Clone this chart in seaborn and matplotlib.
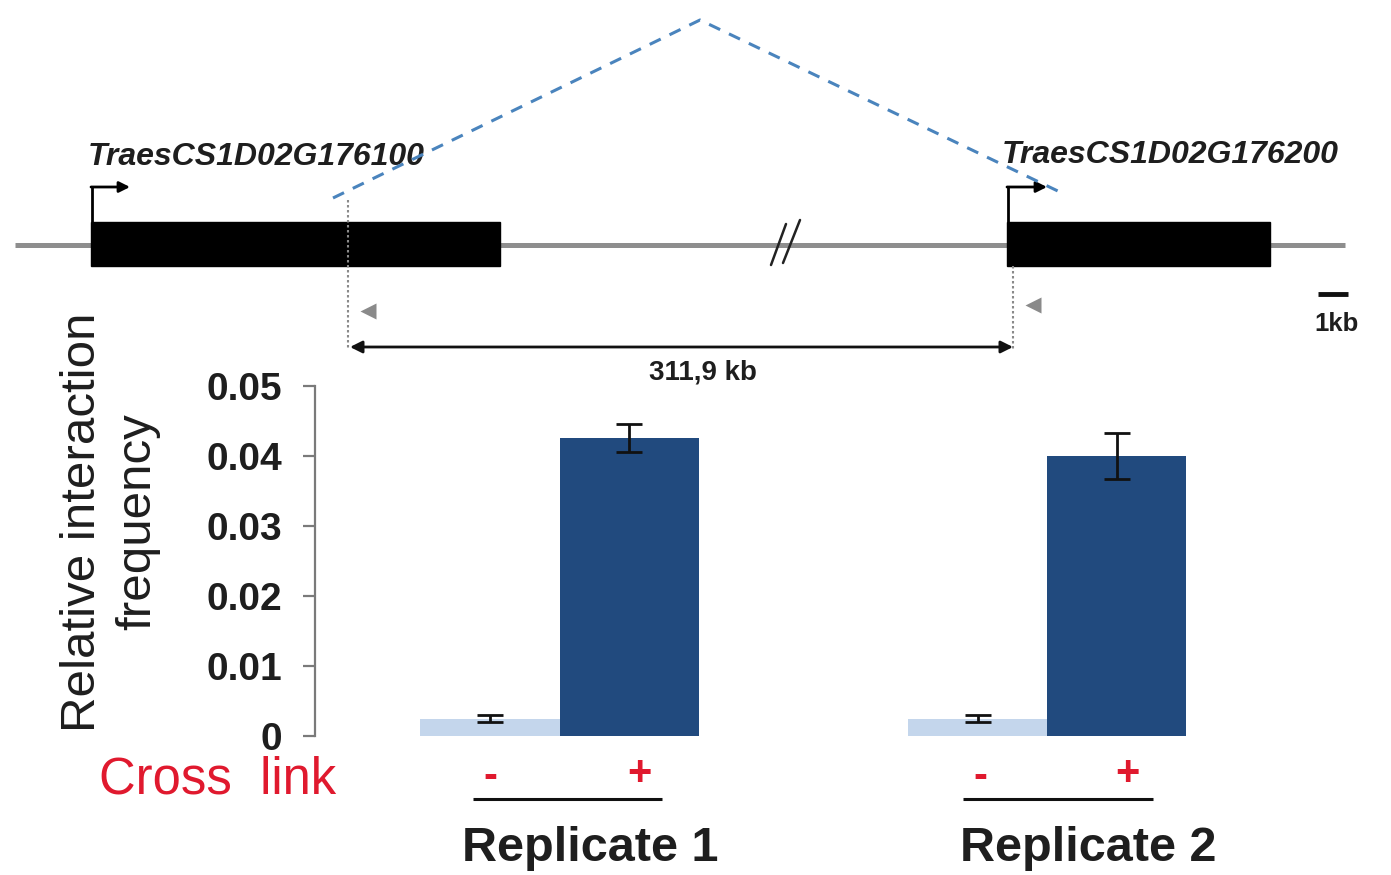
import numpy as np
import pandas as pd
import seaborn as sns
import matplotlib
matplotlib.use("Agg")
import matplotlib.pyplot as plt
from matplotlib.patches import Rectangle
from matplotlib.ticker import FixedLocator, FixedFormatter

# ---- data ----
replicates = ["Replicate 1", "Replicate 2"]
crosslink = ["-", "+"]
freq_minus = [0.0025, 0.0025]
freq_plus = [0.0426, 0.0400]
err_minus = [0.0005, 0.0005]
err_plus = [0.0020, 0.0033]
ytick_values = [0.0, 0.01, 0.02, 0.03, 0.04, 0.05]
ytick_labels = ["0", "0.01", "0.02", "0.03", "0.04", "0.05"]
gene_names = ["TraesCS1D02G176100", "TraesCS1D02G176200"]
distance_label = "311,9 kb"
scale_label = "1kb"

sns.set_style("white")
plt.rcParams["font.family"] = ["Liberation Sans", "DejaVu Sans"]

W, H = 1391, 875
fig = plt.figure(figsize=(W / 100, H / 100), dpi=100)

# overlay in pixel units for the locus diagram and labels
ov = fig.add_axes([0, 0, 1, 1])
ov.set_xlim(0, W)
ov.set_ylim(H, 0)
ov.axis("off")

# ---- bar chart ----
rows = []
group_gap = 3.5
for gi, rep in enumerate(replicates):
    for ci, (cl, vals, errs) in enumerate(zip(crosslink, [freq_minus, freq_plus], [err_minus, err_plus])):
        rows.append({"pos": gi * group_gap + ci, "crosslink": cl,
                     "freq": vals[gi], "err": errs[gi], "rep": rep})
df = pd.DataFrame(rows)

ax = fig.add_axes([315 / W, (H - 736) / H, (1250 - 315) / W, 350 / H])
ax.patch.set_alpha(0)
sns.barplot(data=df, x="pos", y="freq", hue="crosslink", native_scale=True,
            palette={"-": "#c4d6ec", "+": "#214a7e"}, saturation=1, width=1.0, dodge=False,
            errorbar=None, legend=False, linewidth=0, ax=ax)
ax.errorbar(df["pos"], df["freq"], yerr=df["err"], fmt="none", ecolor="#111111",
            elinewidth=2.0, capsize=9.5, capthick=2.0, zorder=5)

ax.set_ylim(0, 0.05)
ax.set_xlim(-(490 - 315) / 139.3, (1250 - 490) / 139.3)
ax.yaxis.set_major_locator(FixedLocator(ytick_values))
ax.yaxis.set_major_formatter(FixedFormatter(ytick_labels))
ax.set_xticks([])
ax.set_xlabel("")
ax.set_ylabel("")
for s in ["top", "right", "bottom"]:
    ax.spines[s].set_visible(False)
ax.spines["left"].set_color("#7a7a7a")
ax.spines["left"].set_linewidth(1.6)
ax.tick_params(axis="y", direction="out", length=8.6, width=1.6, color="#7a7a7a",
               pad=15, labelsize=28, labelcolor="#1e1e1e", left=True)
for t in ax.get_yticklabels():
    t.set_fontweight("bold")

# y-axis title
ov.text(110, 522, "Relative interaction\nfrequency", rotation=90, ha="center", va="center",
        multialignment="center", fontsize=35.5, color="#1e1e1e", linespacing=1.3)

# cross-link row and replicate labels
red = "#e0192e"
ov.text(99, 793, "Cross  link", fontsize=36.5, color=red, ha="left", va="baseline")
sign_x = [[490, 639], [980, 1127]]
for gi in range(len(replicates)):
    ov.text(sign_x[gi][0], 788, crosslink[0], fontsize=30, fontweight="bold", color=red,
            ha="center", va="baseline")
    ov.text(sign_x[gi][1], 785, crosslink[1], fontsize=30, fontweight="bold", color=red,
            ha="center", va="baseline")
underlines = [(473, 662), (963, 1153)]
rep_x = [590, 1088]
for (x0, x1), rx, rep in zip(underlines, rep_x, replicates):
    ov.plot([x0, x1], [799, 799], color="#111111", lw=2.2, solid_capstyle="butt")
    ov.text(rx, 861, rep, fontsize=35, fontweight="bold", color="#1e1e1e",
            ha="center", va="baseline")

# ---- locus diagram ----
ov.plot([15, 1345], [245, 245], color="#8e8e8e", lw=3.6, solid_capstyle="butt", zorder=1)
ov.add_patch(Rectangle((91, 222), 409, 44, color="black", zorder=2))
ov.add_patch(Rectangle((1007, 222), 263, 44, color="black", zorder=2))

# break marks
ov.plot([771, 786], [265, 224], color="#222222", lw=1.8, zorder=3)
ov.plot([783, 800], [263, 220], color="#222222", lw=1.8, zorder=3)

# transcription start arrows
for x0, x1 in [(92, 130), (1008, 1047)]:
    ov.plot([x0, x0], [222, 187], color="black", lw=2.0, zorder=3, solid_capstyle="butt")
    ov.annotate("", xy=(x1, 187), xytext=(x0 - 1, 187),
                arrowprops=dict(arrowstyle="-|>", color="black", lw=2.0,
                                mutation_scale=16, shrinkA=0, shrinkB=0), zorder=3)

# gene names
ov.text(88, 165, gene_names[0], fontsize=23, fontweight="bold", fontstyle="italic",
        color="#1e1e1e", ha="left", va="baseline")
ov.text(1002, 163, gene_names[1], fontsize=23, fontweight="bold", fontstyle="italic",
        color="#1e1e1e", ha="left", va="baseline")

# interaction arc
ov.plot([333, 700, 1062], [198, 20, 193], color="#4a84bd", lw=2.2,
        linestyle=(0, (4, 3.2)), zorder=4)

# viewpoint / anchor positions
ov.plot([348, 348], [200, 350], color="#8a8a8a", lw=1.5, linestyle=(0, (1.2, 1.2)), zorder=4)
ov.plot([1013, 1013], [266, 350], color="#8a8a8a", lw=1.5, linestyle=(0, (1.2, 1.2)), zorder=4)
ov.plot([368], [311], marker="<", ms=12, color="#8a8a8a", mec="none", zorder=4)
ov.plot([1033], [305], marker="<", ms=12, color="#8a8a8a", mec="none", zorder=4)

# distance arrow
ov.annotate("", xy=(350, 347), xytext=(1013, 347),
            arrowprops=dict(arrowstyle="<|-|>", color="#111111", lw=2.0,
                            mutation_scale=18, shrinkA=0, shrinkB=0))
ov.text(703, 372, distance_label, fontsize=20, fontweight="bold", color="#1e1e1e",
        ha="center", va="center")

# scale bar
ov.plot([1318, 1348], [294, 294], color="#111111", lw=3.5, solid_capstyle="butt")
ov.text(1337, 324, scale_label, fontsize=18.5, fontweight="bold", color="#1e1e1e",
        ha="center", va="center")

fig.savefig("out.png", dpi=100)
